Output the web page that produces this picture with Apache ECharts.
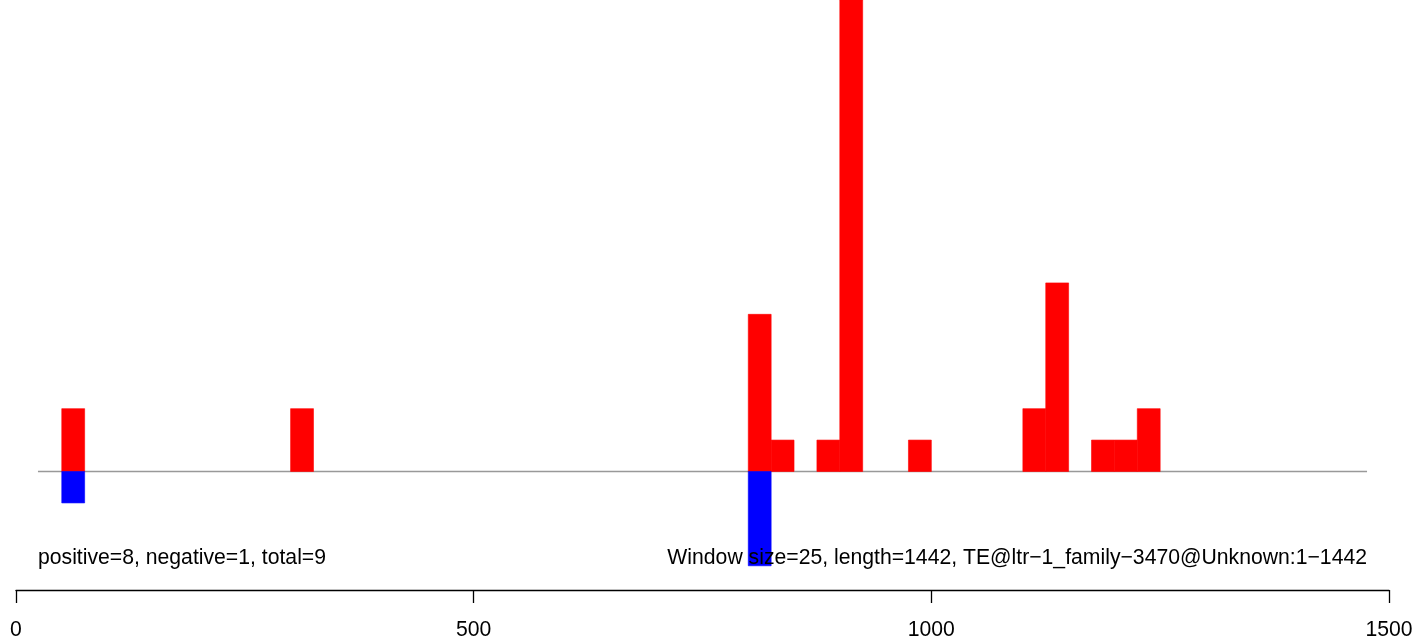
<!DOCTYPE html>
<html>
<head>
<meta charset="utf-8">
<script src="https://cdn.jsdelivr.net/npm/echarts@6/dist/echarts.min.js"></script>
<style>
html,body{margin:0;padding:0;background:#fff;}
#chart{width:1416px;height:641px;}
</style>
</head>
<body>
<div id="chart"></div>
<script>
// Window bins (start positions), window size 25
var windowSize = 25;
var posStarts = [50, 300, 800, 825, 875, 900, 975, 1100, 1125, 1175, 1200, 1225];
var posValues = [2, 2, 5, 1, 1, 15, 1, 2, 6, 1, 1, 2];
var negStarts = [50, 800];
var negValues = [-1, -3];
var xTicks = [0, 500, 1000, 1500];
var leftLabel = 'positive=8, negative=1, total=9';
var rightLabel = 'Window size=25, length=1442, TE@ltr\u22121_family\u22123470@Unknown:1\u22121442';
var baselineRange = [24, 1476];

var posData = posStarts.map(function (s, i) { return [s, s + windowSize, posValues[i]]; });
var negData = negStarts.map(function (s, i) { return [s, s + windowSize, negValues[i]]; });

function renderBar(params, api) {
  var p0 = api.coord([api.value(0), 0]);
  var p1 = api.coord([api.value(1), api.value(2)]);
  var c = api.visual('color');
  return {
    type: 'rect',
    shape: { x: p0[0], y: Math.min(p0[1], p1[1]), width: p1[0] - p0[0], height: Math.abs(p1[1] - p0[1]) },
    style: { fill: c, stroke: c, lineWidth: 0.6 }
  };
}

var chart = echarts.init(document.getElementById('chart'), null, { renderer: 'canvas' });
var FONT = 'Liberation Sans, Arial, Helvetica, sans-serif';
chart.setOption({
  animation: false,
  backgroundColor: '#ffffff',
  grid: { left: 16, right: 27, top: 0, bottom: 51, containLabel: false },
  xAxis: {
    type: 'value', min: 0, max: 1500, interval: 500,
    axisLine: { show: true, onZero: false, lineStyle: { color: '#000', width: 1.3 } },
    axisTick: { show: true, inside: false, length: 13, lineStyle: { color: '#000', width: 1.3 } },
    axisLabel: { show: true, margin: 30, color: '#000', fontSize: 21.2, fontFamily: FONT,
      formatter: function (v) { return xTicks.indexOf(v) >= 0 ? String(v) : ''; } },
    splitLine: { show: false }
  },
  yAxis: {
    type: 'value', min: -3.77, max: 15.0,
    show: false
  },
  series: [
    { type: 'line', data: [[baselineRange[0], 0], [baselineRange[1], 0]], symbol: 'none',
      lineStyle: { color: '#999999', width: 1.3 }, z: 1, silent: true },
    { type: 'custom', name: 'positive', data: posData, renderItem: renderBar,
      itemStyle: { color: '#ff0000' }, encode: { x: [0, 1], y: 2 }, z: 3 },
    { type: 'custom', name: 'negative', data: negData, renderItem: renderBar,
      itemStyle: { color: '#0000ff' }, encode: { x: [0, 1], y: 2 }, z: 3 }
  ],
  graphic: [
    { type: 'text', left: 38, top: 548, z: 100,
      style: { text: leftLabel, fill: '#000', fontSize: 21.2, fontFamily: FONT } },
    { type: 'text', right: 1416 - 1367, top: 548, z: 100,
      style: { text: rightLabel, fill: '#000', fontSize: 21.2, fontFamily: FONT } }
  ]
});
</script>
</body>
</html>
